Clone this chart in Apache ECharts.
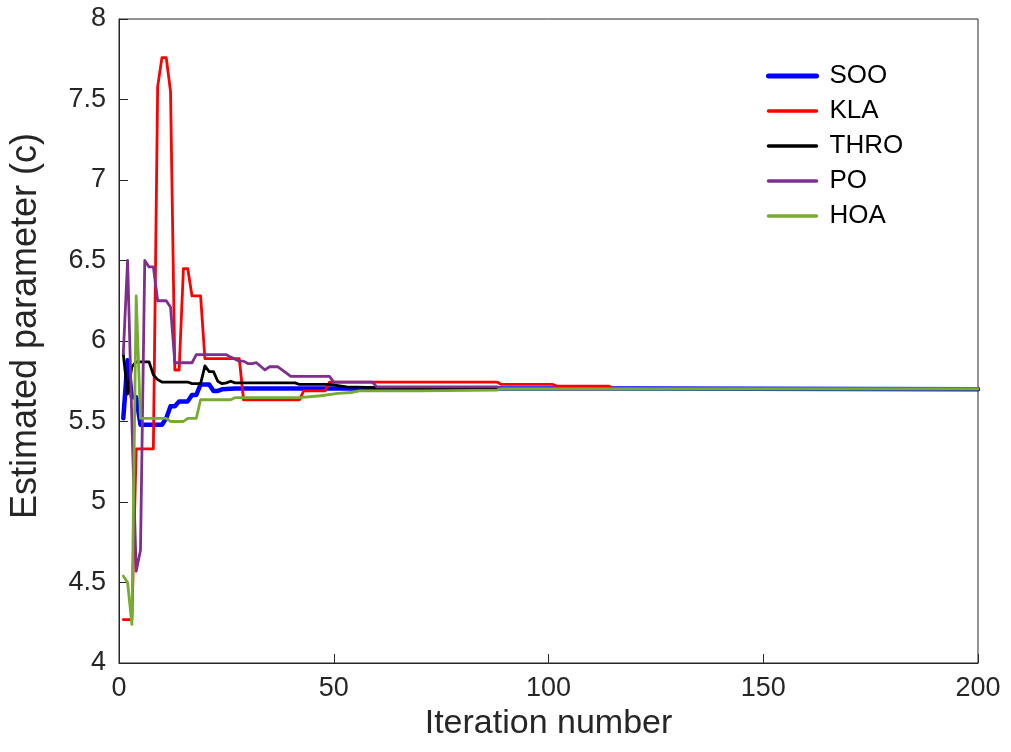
<!DOCTYPE html>
<html>
<head>
<meta charset="utf-8">
<script src="https://cdn.jsdelivr.net/npm/echarts@6/dist/echarts.min.js"></script>
<style>
html,body{margin:0;padding:0;background:#fff;}
#c{width:1011px;height:752px;}
</style>
</head>
<body>
<div id="c"></div>
<script>
// [iteration, estimated parameter c] read at the points where each curve changes
const seriesNames = ['SOO', 'KLA', 'THRO', 'PO', 'HOA'];
const xTicks = [0, 50, 100, 150, 200];
const yTicks = [4, 4.5, 5, 5.5, 6, 6.5, 7, 7.5, 8];

const SOO = [[1,5.52],[2,5.88],[3,5.65],[4,5.65],[5,5.48],[10,5.48],[11,5.52],[12,5.595],[13,5.595],[14,5.625],[16,5.625],[17,5.665],[18,5.665],[19,5.73],[21,5.73],[22,5.69],[23,5.69],[24,5.70],[27,5.705],[120,5.705],[200,5.70]];
const KLA = [[1,4.27],[3,4.27],[4,5.33],[8,5.33],[9,7.58],[10,7.76],[11,7.76],[12,7.55],[13,5.82],[14,5.82],[15,6.45],[16,6.45],[17,6.28],[19,6.28],[20,5.89],[28,5.89],[29,5.635],[42,5.635],[43,5.69],[48,5.69],[49,5.745],[88,5.745],[89,5.73],[101,5.73],[102,5.72],[114,5.72],[115,5.705],[200,5.705]];
const THRO = [[1,5.92],[2,5.67],[3,5.84],[4,5.87],[7,5.87],[8,5.79],[9,5.76],[10,5.745],[16,5.745],[17,5.735],[19,5.735],[20,5.845],[21,5.81],[22,5.81],[23,5.75],[24,5.735],[25,5.74],[26,5.75],[27,5.74],[41,5.74],[42,5.73],[49,5.73],[53,5.715],[60,5.71],[80,5.705],[200,5.705]];
const PO = [[1,5.92],[2,6.5],[3,5.5],[4,4.57],[5,4.7],[6,6.5],[7,6.46],[8,6.46],[9,6.25],[11,6.25],[12,6.21],[13,5.865],[17,5.865],[18,5.915],[25,5.915],[26,5.9],[28,5.875],[29,5.875],[30,5.86],[31,5.86],[32,5.865],[34,5.82],[35,5.84],[37,5.84],[39,5.80],[40,5.78],[49,5.78],[50,5.745],[59,5.745],[60,5.715],[88,5.715],[89,5.705],[200,5.705]];
const HOA = [[1,4.54],[2,4.5],[3,4.24],[4,6.28],[5,5.52],[11,5.52],[12,5.5],[15,5.5],[16,5.52],[18,5.52],[19,5.635],[26,5.635],[27,5.648],[42,5.648],[47,5.66],[51,5.675],[54,5.68],[56,5.69],[70,5.69],[88,5.695],[89,5.702],[200,5.702]];

const seriesData = [SOO, KLA, THRO, PO, HOA];
const colors = ['#0000FF', '#FF0000', '#000000', '#7E2F8E', '#77AC30'];
const widths = [4.5, 2.8, 2.8, 2.8, 2.8];
const legendWidths = [5, 3.5, 3.5, 3.5, 3.5];

const FONT = 'Liberation Sans, Arial, sans-serif';
const AX = '#262626';

const chart = echarts.init(document.getElementById('c'), null, {renderer: 'canvas'});
chart.setOption({
  animation: false,
  backgroundColor: '#ffffff',
  grid: {left: 119, right: 33, top: 19, bottom: 89, show: true, borderColor: AX, borderWidth: 1, backgroundColor: 'transparent'},
  legend: {
    data: seriesNames.map((n, i) => ({name: n, lineStyle: {width: legendWidths[i], color: colors[i], cap: 'round'}})),
    orient: 'vertical',
    left: 761,
    top: 58,
    itemWidth: 48,
    itemHeight: 14,
    itemGap: 9,
    itemStyle: {opacity: 0},
    textStyle: {fontFamily: FONT, fontSize: 26, color: '#000', padding: [0, 0, 0, 8]}
  },
  xAxis: {
    type: 'value',
    min: xTicks[0], max: xTicks[xTicks.length - 1], interval: 50,
    name: 'Iteration number',
    nameLocation: 'middle',
    nameGap: 37,
    nameTextStyle: {fontFamily: FONT, fontSize: 34, color: AX},
    axisLine: {show: true, lineStyle: {color: AX, width: 1}},
    axisTick: {show: true, inside: true, length: 9, lineStyle: {color: AX}},
    axisLabel: {fontFamily: FONT, fontSize: 27, color: AX, margin: 12},
    splitLine: {show: false}
  },
  yAxis: {
    type: 'value',
    min: yTicks[0], max: yTicks[yTicks.length - 1], interval: 0.5,
    name: 'Estimated parameter (c)',
    nameLocation: 'middle',
    nameRotate: 90,
    nameGap: 75,
    nameTextStyle: {fontFamily: FONT, fontSize: 36, color: AX, padding: [0, 0, 0, 30]},
    axisLine: {show: true, lineStyle: {color: AX, width: 1}},
    axisTick: {show: true, inside: true, length: 9, lineStyle: {color: AX}},
    axisLabel: {fontFamily: FONT, fontSize: 27, color: AX, margin: 13},
    splitLine: {show: false}
  },
  series: seriesNames.map((n, i) => ({
    name: n,
    type: 'line',
    data: seriesData[i],
    symbol: 'none',
    showSymbol: false,
    color: colors[i],
    lineStyle: {color: colors[i], width: widths[i], join: 'round', cap: 'round'},
    z: 2 + i
  }))
});
</script>
</body>
</html>
